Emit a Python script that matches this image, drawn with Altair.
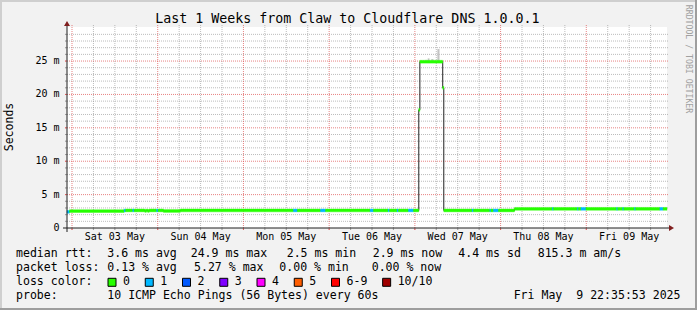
import altair as alt
import pandas as pd

# ------------------------------------------------------------------ data
# time axis: hours since Sat 03 May 2025 00:00 (graph local time)
T0_H = -1.4019          # Fri 02 May 22:35:53  (start of graph)
T1_H = 166.5981         # Fri 09 May 22:35:53  (end of graph)
Y_MAX_MS = 30.1         # top of the value axis (milliseconds)

# median RTT, run-length encoded: segment start (h), median (ms), loss bucket
seg_start_h = [-1.40, -0.70, 14.6, 15.0, 17.0, 17.4, 20.4, 20.8, 21.2, 21.6,
               23.7, 24.1, 25.6, 30.3, 62.0, 63.1, 69.6, 71.0, 83.5, 84.4,
               88.5, 88.9, 91.0, 91.4, 94.2, 95.6, 97.1, 97.4, 103.8, 104.1,
               112.0, 112.4, 117.0, 117.3, 118.0, 119.4, 123.9, 134.5, 134.8, 141.5,
               141.8, 142.5, 143.9, 152.5, 152.8, 154.2, 154.5, 157.5, 157.8, 164.6,
               165.5]
seg_median_ms = [2.42, 2.53, 2.62, 2.63, 2.63, 2.63, 2.56, 2.63, 2.56, 2.63,
                 2.63, 2.63, 2.55, 2.63, 2.63, 2.63, 2.63, 2.63, 2.63, 2.63,
                 2.63, 2.63, 2.63, 2.63, 2.63, 2.63, 17.7, 24.9, 21.0, 2.63,
                 2.63, 2.63, 2.63, 2.63, 2.63, 2.63, 2.87, 2.87, 2.87, 2.87,
                 2.87, 2.87, 2.87, 2.87, 2.87, 2.87, 2.87, 2.87, 2.87, 2.87,
                 2.87]
seg_loss = ["1", "0", "1", "0", "1", "0", "0", "0", "0", "0",
            "1", "0", "0", "0", "1", "0", "1", "0", "1", "0",
            "1", "0", "1", "0", "1", "0", "0", "0", "0", "0",
            "1", "0", "1", "0", "1", "0", "0", "1", "0", "1",
            "0", "1", "0", "1", "0", "1", "0", "1", "0", "1",
            "0"]

# smoke (ping spread) visible above the median
smoke_start_h = [99.0, 99.6, 100.6, 102.3]
smoke_end_h = [99.3, 100.1, 101.2, 102.9]
smoke_low_ms = [24.95, 24.95, 24.95, 24.95]
smoke_high_ms = [25.2, 25.4, 25.3, 26.8]

day_labels = ["Sat 03 May", "Sun 04 May", "Mon 05 May", "Tue 06 May",
              "Wed 07 May", "Thu 08 May", "Fri 09 May"]
day_label_h = [12, 36, 60, 84, 108, 132, 156]
major_x_h = [0, 24, 48, 72, 96, 120, 144]
minor_x_h = [h for h in range(6, 167, 6) if h % 24 != 0]
y_label_values = [0, 5, 10, 15, 20, 25]
y_label_texts = ["0\u00a0\u00a0", "5 m", "10 m", "15 m", "20 m", "25 m"]
major_y_ms = [5, 10, 15, 20, 25]
minor_y_ms = [v for v in range(1, 31) if v % 5 != 0]

title_text = "Last 1 Weeks from Claw to Cloudflare DNS 1.0.0.1"
y_title = "Seconds"
watermark = "RRDTOOL / TOBI OETIKER"
rtt_values = ["3.6", "24.9", "2.5", "2.9", "4.4", "815.3"]
rtt_units = ["ms avg", "ms max", "ms min", "ms now", "ms sd", "m am/s"]
loss_values = ["0.13", "5.27", "0.00", "0.00"]
loss_units = ["% avg", "% max", "% min", "% now"]
loss_labels = ["0", "1", "2", "3", "4", "5", "6-9", "10/10"]
loss_colors = ["#26ff00", "#00b8ff", "#0059ff", "#7e00ff", "#ff00ff",
               "#ff5e00", "#ff0000", "#a10000"]
probe_text = "10 ICMP Echo Pings (56 Bytes) every 60s"
stamp_text = "Fri May\u00a0 9 22:35:53 2025"

# ------------------------------------------------------------------ layout
W, H = 600, 201
PL, PT = 67, 27
TOTAL_W, TOTAL_H = 697, 310
MONO = "DejaVu Sans Mono"
BAND_HALF = 0.21
MINOR_C, MAJOR_C = "#8f8f8f", "#de4f4f"
rtt_x = [107.3, 190.7, 286.7, 372.7, 458.3, 537.7]
loss_x = [107.3, 194.0, 279.3, 371.7]
line_y = [254.3, 267.7, 282.3, 295.7]

xs = alt.Scale(domain=[T0_H, T1_H], nice=False, zero=False)
ys = alt.Scale(domain=[0, Y_MAX_MS], nice=False, zero=False)


def nb(s):
    return s.replace(" ", "\u00a0")


def pix_text(rows, size, align="left", angle=0, color="#000000"):
    df = pd.DataFrame(rows, columns=["px", "py", "txt"])
    df["px"] = df["px"] - PL
    df["py"] = df["py"] - PT
    df["txt"] = df["txt"].map(nb)
    return alt.Chart(df).mark_text(
        align=align, baseline="middle", angle=angle, fontSize=size,
        font=MONO, color=color
    ).encode(x=alt.X("px:Q", scale=None, axis=None),
             y=alt.Y("py:Q", scale=None, axis=None),
             text="txt:N")


def pix_rects(rows, stroke=None):
    df = pd.DataFrame(rows, columns=["x0", "x1", "y0", "y1", "c"])
    mk = alt.Chart(df).mark_rect(stroke=stroke, strokeWidth=1) if stroke else alt.Chart(df).mark_rect()
    return mk.encode(
        x=alt.X("x0:Q", scale=None, axis=None), x2="x1:Q",
        y=alt.Y("y0:Q", scale=None, axis=None), y2="y1:Q",
        color=alt.Color("c:N", scale=None, legend=None))


def pix_rules(rows, color, width=1):
    df = pd.DataFrame(rows, columns=["x0", "x1", "y0", "y1"])
    return alt.Chart(df).mark_rule(color=color, strokeWidth=width).encode(
        x=alt.X("x0:Q", scale=None, axis=None), x2="x1:Q",
        y=alt.Y("y0:Q", scale=None, axis=None), y2="y1:Q")


layers = []

# frame shading
layers.append(pix_rects([
    (-PL, TOTAL_W - PL, -PT, -PT + 2, "#CFCFCF"),
    (-PL, -PL + 2, -PT, TOTAL_H - PT, "#CFCFCF"),
    (-PL, TOTAL_W - PL, TOTAL_H - PT - 2, TOTAL_H - PT, "#9E9E9E"),
    (TOTAL_W - PL - 2, TOTAL_W - PL, -PT, TOTAL_H - PT, "#9E9E9E"),
]))


def vgrid(values, color, opacity):
    df = pd.DataFrame({"h": values})
    dashed = alt.Chart(df).mark_rule(color=color, opacity=opacity, strokeDash=[1, 1]).encode(
        x=alt.X("h:Q", scale=xs, axis=None), y=alt.value(-2), y2=alt.value(H + 2))
    tick = alt.Chart(df).mark_rule(color=color, opacity=opacity).encode(
        x=alt.X("h:Q", scale=xs, axis=None), y=alt.value(H), y2=alt.value(H + 2))
    return [dashed, tick]


def hgrid(values, color, opacity):
    df = pd.DataFrame({"v": values})
    dashed = alt.Chart(df).mark_rule(color=color, opacity=opacity, strokeDash=[1, 1]).encode(
        y=alt.Y("v:Q", scale=ys, axis=None), x=alt.value(-2), x2=alt.value(W + 2))
    tick = alt.Chart(df).mark_rule(color=color, opacity=opacity).encode(
        y=alt.Y("v:Q", scale=ys, axis=None), x=alt.value(-2), x2=alt.value(0))
    return [dashed, tick]


layers += vgrid(minor_x_h, MINOR_C, 0.6)
layers += hgrid(minor_y_ms, MINOR_C, 0.6)
layers += vgrid(major_x_h, MAJOR_C, 0.7)
layers += hgrid(major_y_ms, MAJOR_C, 0.7)

# smoke
smoke_df = pd.DataFrame({"s": smoke_start_h, "e": smoke_end_h,
                         "lo": smoke_low_ms, "hi": smoke_high_ms})
layers.append(alt.Chart(smoke_df).mark_rect(color="#c4c4c4").encode(
    x=alt.X("s:Q", scale=xs, axis=None), x2="e:Q",
    y=alt.Y("lo:Q", scale=ys, axis=None), y2="hi:Q"))

# thin dark median line
line_df = pd.DataFrame({"h": seg_start_h + [T1_H],
                        "m": seg_median_ms + [seg_median_ms[-1]]})
layers.append(alt.Chart(line_df).mark_line(
    color="#202020", strokeWidth=1, interpolate="step-after").encode(
    x=alt.X("h:Q", scale=xs, axis=None), y=alt.Y("m:Q", scale=ys, axis=None)))

# loss-coloured median band
band_df = pd.DataFrame({"s": seg_start_h, "e": seg_start_h[1:] + [T1_H],
                        "m": seg_median_ms, "loss": seg_loss})
band_df["lo"] = band_df["m"] - BAND_HALF
band_df["hi"] = band_df["m"] + BAND_HALF
loss_scale = alt.Scale(domain=loss_labels, range=loss_colors)
layers.append(alt.Chart(band_df).mark_rect(strokeWidth=0.4).encode(
    x=alt.X("s:Q", scale=xs, axis=None), x2="e:Q",
    y=alt.Y("lo:Q", scale=ys, axis=None), y2="hi:Q",
    color=alt.Color("loss:N", scale=loss_scale, legend=None),
    stroke=alt.Stroke("loss:N", scale=loss_scale, legend=None)))

# axes
layers.append(pix_rules([(-4, W + 4, H, H), (0, 0, H + 4, -3)], "#1F1F1F"))
arrow_df = pd.DataFrame({"px": [0], "py": [-3.5]})
layers.append(alt.Chart(arrow_df).mark_point(
    shape="M0,-1L1.2,1L-1.2,1Z", filled=True, size=25, color="#801F1F", opacity=1).encode(
    x=alt.X("px:Q", scale=None, axis=None), y=alt.Y("py:Q", scale=None, axis=None)))
arrow_df2 = pd.DataFrame({"px": [W + 4.5], "py": [H]})
layers.append(alt.Chart(arrow_df2).mark_point(
    shape="M1,0L-1,-1.2L-1,1.2Z", filled=True, size=25, color="#801F1F", opacity=1).encode(
    x=alt.X("px:Q", scale=None, axis=None), y=alt.Y("py:Q", scale=None, axis=None)))

# axis labels
dl_df = pd.DataFrame({"h": day_label_h, "t": day_labels})
layers.append(alt.Chart(dl_df).mark_text(
    font=MONO, fontSize=10, baseline="middle", align="center", color="#000000").encode(
    x=alt.X("h:Q", scale=xs, axis=None), y=alt.value(237.4 - PT), text="t:N"))
yl_df = pd.DataFrame({"v": y_label_values, "t": y_label_texts})
layers.append(alt.Chart(yl_df).mark_text(
    font=MONO, fontSize=10, baseline="middle", align="right", color="#000000").encode(
    y=alt.Y("v:Q", scale=ys, axis=None), x=alt.value(59.5 - PL), text="t:N"))

# titles
layers.append(pix_text([(347.3, 19.0, title_text)], 13.3, align="center"))
layers.append(pix_text([(10.0, 127.0, y_title)], 11.5, align="center", angle=270))
layers.append(pix_text([(688.0, 59.0, watermark)], 8.2, align="center", angle=90, color="#a0a0a0"))

# legend / stats lines
rows = [(16, line_y[0], "median rtt:"), (16, line_y[1], "packet loss:"),
        (16, line_y[2], "loss color:"), (16, line_y[3], "probe:"),
        (107.3, line_y[3], probe_text)]
rows += [(x, line_y[0], f"{v} {u}") for x, v, u in zip(rtt_x, rtt_values, rtt_units)]
rows += [(x, line_y[1], f"{v} {u}") for x, v, u in zip(loss_x, loss_values, loss_units)]
sw_x = []
cx = 108.0
for lab in loss_labels:
    sw_x.append(cx)
    cx += 30.3 + 6.95 * len(lab)
rows += [(x + 15, line_y[2], lab) for x, lab in zip(sw_x, loss_labels)]
layers.append(pix_text(rows, 11.55))
layers.append(pix_text([(680.5, line_y[3], stamp_text)], 11.55, align="right"))
layers.append(pix_rects([(x - PL, x + 8 - PL, line_y[2] - 4 - PT, line_y[2] + 4 - PT, c)
                         for x, c in zip(sw_x, loss_colors)], stroke="#000000"))

chart = alt.layer(*layers).properties(
    width=W, height=H,
    padding={"left": PL, "top": PT, "right": TOTAL_W - PL - W, "bottom": TOTAL_H - PT - H},
    autosize=alt.AutoSizeParams(type="none"),
    background="#F2F2F2",
).resolve_scale(x="independent", y="independent", color="independent", stroke="independent"
).configure_view(fill="#FFFFFF", strokeWidth=0)

chart.save("out.html", embed_options={"renderer": "svg", "actions": False})
